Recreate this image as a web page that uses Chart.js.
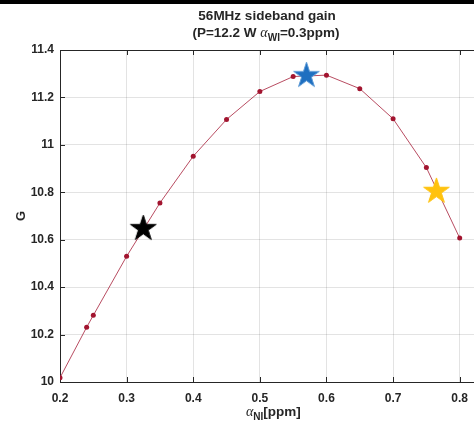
<!DOCTYPE html>
<html>
<head>
<meta charset="utf-8">
<script src="https://cdn.jsdelivr.net/npm/chart.js@4/dist/chart.umd.min.js"></script>
<style>
  html, body { margin: 0; padding: 0; background: #fff; overflow: hidden; width: 474px; height: 424px; }
  #wrap { position: relative; width: 498px; height: 424px; }
  #bar { position: absolute; left: 0; top: 0; width: 474px; height: 4px; background: #000; z-index: 2; }
</style>
</head>
<body>
<div id="bar"></div>
<div id="wrap"><canvas id="chart"></canvas></div>
<script>
// sideband gain vs alpha_NI
const alphaNI = [0.2, 0.24, 0.25, 0.3, 0.35, 0.4, 0.45, 0.5, 0.55, 0.6, 0.65, 0.7, 0.75, 0.8];
const gainG = [10.018, 10.231, 10.281, 10.53, 10.755, 10.952, 11.107, 11.225, 11.288, 11.294, 11.237, 11.11, 10.904, 10.607];
const starX = [0.325, 0.57, 0.765];
const starY = [10.647, 11.292, 10.804];
const starColors = ["#000000", "#1f6fc0", "#ffc20e"];
const starEdges = ["#000000", "#5d9ad6", "#ffc20e"];

const INK = "#262626";
const LINE = "#a2142f";
const BOLD = (px) => `bold ${px}px "Liberation Sans", Arial, sans-serif`;
const GREEK = (px) => `italic ${px}px "Liberation Serif", "DejaVu Serif", serif`;

function makeStar(fill, edge, R) {
  const c = document.createElement("canvas");
  const s = Math.ceil(R * 2 + 4);
  c.width = s; c.height = s;
  const g = c.getContext("2d");
  const r = R * 0.382;
  g.beginPath();
  for (let i = 0; i < 10; i++) {
    const a = -Math.PI / 2 + i * Math.PI / 5;
    const rr = i % 2 ? r : R;
    g.lineTo(s / 2 + rr * Math.cos(a), s / 2 + rr * Math.sin(a));
  }
  g.closePath();
  g.fillStyle = fill; g.fill();
  g.lineWidth = 1; g.strokeStyle = edge; g.stroke();
  return c;
}
const starImgs = starColors.map((c, i) => makeStar(c, starEdges[i], 13.5));

// text with sub-scripts, runs laid out left to right
function drawRuns(ctx, runs, x, y, align) {
  ctx.save();
  ctx.fillStyle = INK;
  ctx.textBaseline = "alphabetic";
  ctx.textAlign = "left";
  let w = 0;
  runs.forEach((r) => { ctx.font = r.font; r.w = ctx.measureText(r.t).width; w += r.w; });
  let cx = align === "center" ? x - w / 2 : x;
  runs.forEach((r) => { ctx.font = r.font; ctx.fillText(r.t, cx, y + (r.dy || 0)); cx += r.w; });
  ctx.restore();
}

const decor = {
  id: "decor",
  beforeDatasetsDraw(chart) {
    const { ctx, chartArea: a, scales } = chart;
    ctx.save();
    ctx.strokeStyle = INK;
    ctx.lineWidth = 1;
    ctx.beginPath();
    // top frame line
    ctx.moveTo(a.left, a.top + 0.5); ctx.lineTo(a.right, a.top + 0.5);
    // inward ticks
    scales.x.ticks.forEach((t) => {
      const px = Math.round(scales.x.getPixelForValue(t.value)) + 0.5;
      ctx.moveTo(px, a.bottom); ctx.lineTo(px, a.bottom - 5);
      ctx.moveTo(px, a.top); ctx.lineTo(px, a.top + 5);
    });
    scales.y.ticks.forEach((t) => {
      const py = Math.round(scales.y.getPixelForValue(t.value)) + 0.5;
      ctx.moveTo(a.left, py); ctx.lineTo(a.left + 5, py);
    });
    ctx.stroke();
    ctx.restore();
  },
  afterDraw(chart) {
    const { ctx, chartArea: a } = chart;
    drawRuns(ctx, [{ t: "56MHz sideband gain", font: BOLD(13.5) }], 267, 20, "center");
    drawRuns(ctx, [
      { t: "(P=12.2 W ", font: BOLD(13.5) },
      { t: "α", font: GREEK(14) },
      { t: "WI", font: BOLD(10), dy: 4 },
      { t: "=0.3ppm)", font: BOLD(13.5) },
    ], 266, 36.5, "center");
    drawRuns(ctx, [
      { t: "α", font: GREEK(14) },
      { t: "NI", font: BOLD(10), dy: 4 },
      { t: "[ppm]", font: BOLD(13.5) },
    ], 246, 416, "left");
    ctx.save();
    ctx.translate(21, (a.top + a.bottom) / 2);
    ctx.rotate(-Math.PI / 2);
    ctx.font = BOLD(13);
    ctx.fillStyle = INK;
    ctx.textAlign = "center";
    ctx.textBaseline = "middle";
    ctx.fillText("G", 0, 0);
    ctx.restore();
  },
};

const tickFont = { family: '"Liberation Sans", Arial', weight: "bold", size: 12 };
const fmtTick = (v) => String(+v.toFixed(1));

new Chart(document.getElementById("chart"), {
  type: "scatter",
  data: {
    datasets: [
      {
        data: starX.map((x, i) => ({ x, y: starY[i] })),
        pointStyle: starImgs,
        showLine: false,
      },
      {
        data: alphaNI.map((x, i) => ({ x, y: gainG[i] })),
        showLine: true,
        borderColor: "rgba(162,20,47,0.85)",
        borderWidth: 0.9,
        backgroundColor: LINE,
        pointBackgroundColor: LINE,
        pointBorderWidth: 0,
        pointRadius: 2.5,
        tension: 0,
      },
    ],
  },
  options: {
    responsive: true, maintainAspectRatio: false, animation: false,
    layout: { padding: { top: 50, left: 0, right: 0, bottom: 0 } },
    plugins: { legend: { display: false }, tooltip: { enabled: false }, title: { display: false } },
    scales: {
      x: {
        type: "linear", min: 0.2, max: 0.85,
        afterFit: (s) => { s.height = 42; },
        border: { display: true, color: INK, width: 1 },
        grid: { color: "rgba(38,38,38,0.13)", drawTicks: false },
        ticks: { stepSize: 0.1, includeBounds: false, padding: 9, color: INK, font: tickFont, callback: fmtTick },
      },
      y: {
        min: 10, max: 11.4,
        afterFit: (s) => { s.width = 60; },
        border: { display: true, color: INK, width: 1 },
        grid: { color: "rgba(38,38,38,0.13)", drawTicks: false },
        ticks: { stepSize: 0.2, padding: 6, color: INK, font: tickFont, callback: fmtTick },
      },
    },
  },
  plugins: [decor],
});
</script>
</body>
</html>
